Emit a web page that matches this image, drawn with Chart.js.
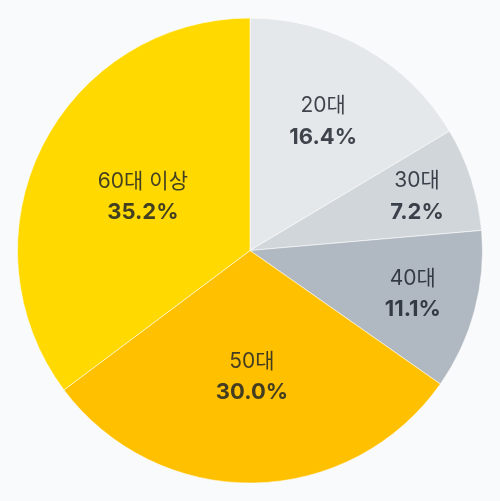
<!DOCTYPE html>
<html>
<head>
<meta charset="utf-8">
<script src="https://cdn.jsdelivr.net/npm/chart.js@4/dist/chart.umd.min.js"></script>
<style>
  html, body { margin: 0; padding: 0; background: #f9fafb; }
  #wrap { width: 500px; height: 501px; position: relative; }
</style>
</head>
<body>
<div id="wrap"><canvas id="c"></canvas></div>
<script>
const categories = ['20대', '30대', '40대', '50대', '60대 이상'];
const values = [16.4, 7.2, 11.1, 30.0, 35.2];
const sliceColors = ['#e5e8eb', '#d1d6db', '#b0b8c1', '#ffc000', '#ffd900'];

const labelPlugin = {
  id: 'sliceLabels',
  afterDatasetsDraw(chart, args, opts) {
    const ctx = chart.ctx;
    const meta = chart.getDatasetMeta(0);
    const fam = "Inter, 'Noto Sans CJK KR', sans-serif";
    meta.data.forEach((arc, i) => {
      const p = arc.getProps(['x', 'y', 'startAngle', 'endAngle', 'outerRadius'], true);
      const mid = (p.startAngle + p.endAngle) / 2;
      const f = opts.radial[i];
      const cx = p.x + Math.cos(mid) * p.outerRadius * f;
      const cy = p.y + Math.sin(mid) * p.outerRadius * f;
      ctx.save();
      ctx.fillStyle = 'rgba(25,31,40,0.82)';
      ctx.textAlign = 'center';
      ctx.textBaseline = 'middle';
      ctx.font = '400 21px ' + fam;
      ctx.fillText(categories[i], cx, cy - 15.5);
      ctx.font = '700 22px ' + fam;
      ctx.fillText(values[i].toFixed(1) + '%', cx, cy + 15.5);
      ctx.restore();
    });
  }
};

new Chart(document.getElementById('c'), {
  type: 'pie',
  data: {
    labels: categories,
    datasets: [{
      data: values,
      backgroundColor: sliceColors,
      borderColor: 'rgba(255,255,255,0.55)',
      borderWidth: 1
    }]
  },
  options: {
    responsive: true,
    maintainAspectRatio: false,
    animation: false,
    layout: { padding: 17 },
    plugins: {
      legend: { display: false },
      tooltip: { enabled: false },
      sliceLabels: { radial: [0.638, 0.755, 0.725, 0.545, 0.515] }
    }
  },
  plugins: [labelPlugin]
});
</script>
</body>
</html>
